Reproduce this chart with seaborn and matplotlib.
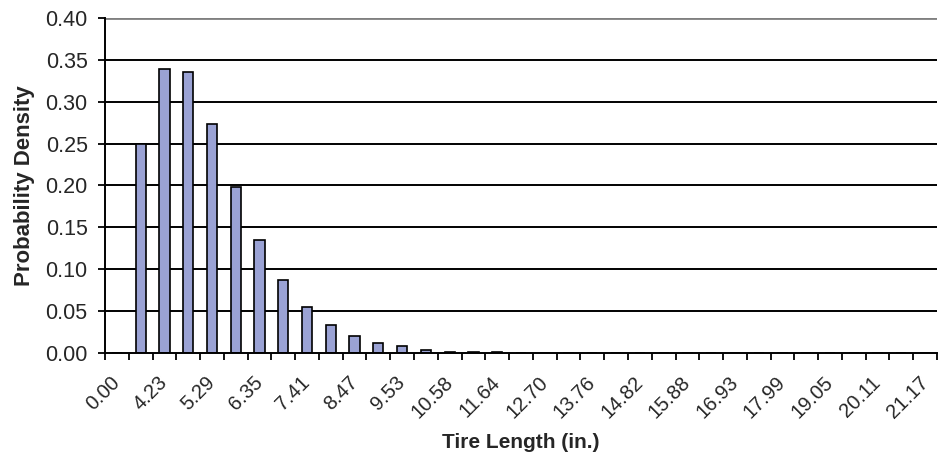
import matplotlib
matplotlib.use("Agg")
import matplotlib.pyplot as plt
import seaborn as sns
import pandas as pd
import numpy as np
from matplotlib.ticker import FixedLocator

# Bin values of tire length (in.); only every other one is labelled on the axis
tire_length = [
    "0.00", "3.70", "4.23", "4.76", "5.29", "5.82", "6.35", "6.88", "7.41",
    "7.94", "8.47", "9.00", "9.53", "10.06", "10.58", "11.11", "11.64",
    "12.17", "12.70", "13.23", "13.76", "14.29", "14.82", "15.35", "15.88",
    "16.40", "16.93", "17.46", "17.99", "18.52", "19.05", "19.58", "20.11",
    "20.64", "21.17",
]

# Probability density for each bin
density = [
    0.000, 0.250, 0.339, 0.335, 0.273, 0.198, 0.135, 0.087, 0.055,
    0.034, 0.020, 0.012, 0.008, 0.003, 0.0015, 0.0015, 0.0015,
    0.000, 0.000, 0.000, 0.000, 0.000, 0.000, 0.000, 0.000,
    0.000, 0.000, 0.000, 0.000, 0.000, 0.000, 0.000, 0.000,
    0.000, 0.000,
]

y_ticks = [0.00, 0.05, 0.10, 0.15, 0.20, 0.25, 0.30, 0.35, 0.40]

df = pd.DataFrame({"length": tire_length, "density": density})

sns.set_style("white")
plt.rcParams["font.family"] = ["Liberation Sans", "DejaVu Sans"]

fig = plt.figure(figsize=(9.4, 4.57), dpi=100)
ax = fig.add_axes([0.1117, 0.2276, 0.8851, 0.7330])

sns.barplot(
    data=df, x="length", y="density", order=tire_length,
    color="#9AA2D4", saturation=1, width=0.43,
    edgecolor="black", linewidth=1.2, ax=ax, zorder=3,
)

n = len(tire_length)
ax.set_xlim(-0.5, n - 0.5)
ax.set_ylim(0, 0.40)

# horizontal gridlines
for v in y_ticks[1:-1]:
    ax.axhline(v, color="black", linewidth=1.4, zorder=1)
ax.axhline(0.40, color="#808080", linewidth=2.0, zorder=1)

ax.set_yticks(y_ticks)
ax.set_yticklabels([f"{v:.2f}" for v in y_ticks], fontsize=15.5)

# labels on every other category, ticks marking category boundaries
label_pos = list(range(0, n, 2))
ax.xaxis.set_major_locator(FixedLocator(label_pos))
ax.set_xticklabels([tire_length[i] for i in label_pos], fontsize=14.5,
                   rotation=45, ha="right", va="center", rotation_mode="anchor")
ax.xaxis.set_minor_locator(FixedLocator(np.arange(-0.5, n, 1.0)))
ax.tick_params(axis="x", which="major", length=0, pad=19)
ax.tick_params(axis="x", which="minor", length=5, width=1.3,
               color="black", direction="out", bottom=True)
ax.tick_params(axis="y", which="major", length=5, width=1.3,
               color="black", direction="out", left=True, pad=7.5)

for side in ("top", "right"):
    ax.spines[side].set_visible(False)
for side in ("left", "bottom"):
    ax.spines[side].set_color("black")
    ax.spines[side].set_linewidth(1.4)
    ax.spines[side].set_zorder(4)

ax.set_xlabel("Tire Length (in.)", fontsize=15, fontweight="bold")
ax.set_ylabel("Probability Density", fontsize=16, fontweight="bold")
ax.xaxis.set_label_coords(0.5, -0.266)
ax.xaxis.label.set_va("center")
ax.yaxis.set_label_coords(-0.097, 0.5)
ax.yaxis.label.set_va("center")

fig.savefig("out.png", dpi=100, facecolor="white")
